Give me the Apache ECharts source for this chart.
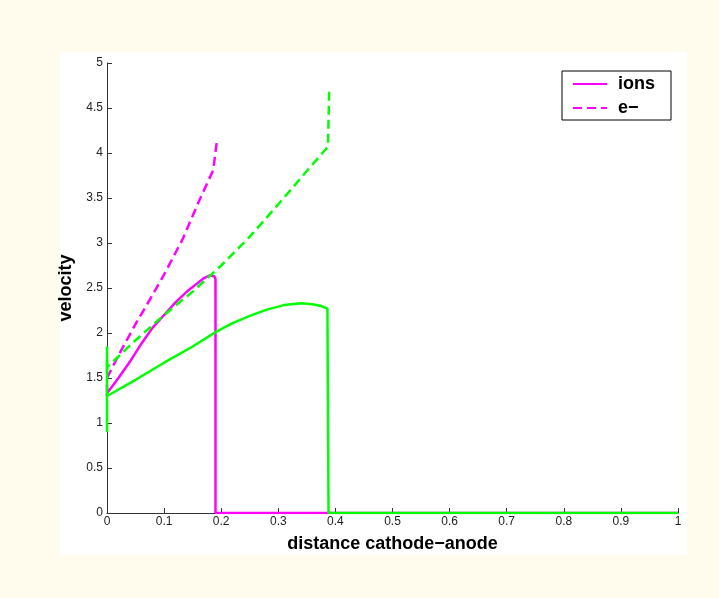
<!DOCTYPE html>
<html>
<head>
<meta charset="utf-8">
<script src="https://cdn.jsdelivr.net/npm/echarts@6/dist/echarts.min.js"></script>
<style>
  html, body { margin: 0; padding: 0; background: #fffcee; }
  #chart { width: 719px; height: 598px; }
</style>
</head>
<body>
<div id="chart"></div>
<script>
// 读图得到的数据 (x: 距离, y: 速度)
const ionsA = [[0, 1.3], [0, 1.42], [0, 1.33], [0.02, 1.5], [0.04, 1.68], [0.06, 1.88], [0.08, 2.06], [0.1, 2.2], [0.12, 2.34], [0.14, 2.46], [0.16, 2.56], [0.17, 2.61], [0.18, 2.64], [0.188, 2.63], [0.19, 2.6], [0.19, 0], [1, 0]];
const electronsA = [[0, 1.5], [0.02, 1.75], [0.05, 2.1], [0.075, 2.37], [0.1, 2.65], [0.133, 3.05], [0.16, 3.45], [0.186, 3.81], [0.192, 4.11]];
const ionsB = [[0, 0.9], [0, 1.75], [0, 1.3], [0.05, 1.48], [0.1, 1.67], [0.15, 1.85], [0.19, 2.01], [0.22, 2.11], [0.25, 2.19], [0.28, 2.26], [0.31, 2.31], [0.34, 2.33], [0.36, 2.32], [0.375, 2.3], [0.386, 2.27], [0.388, 2.29], [0.388, 0], [1, 0]];
const electronsB = [[0, 1.85], [0, 1.55], [0, 1.62], [0.05, 1.92], [0.1, 2.2], [0.15, 2.46], [0.2, 2.75], [0.25, 3.07], [0.3, 3.43], [0.35, 3.8], [0.387, 4.07], [0.389, 4.68]];

const magenta = '#ff00ff';
const green = '#00ff00';

const chart = echarts.init(document.getElementById('chart'));

const option = {
    backgroundColor: '#fffcee',
    animation: false,
    textStyle: { fontFamily: 'Liberation Sans, Arial, sans-serif' },
    graphic: [{
        type: 'rect',
        z: -10,
        shape: { x: 60, y: 52, width: 627, height: 503 },
        style: { fill: '#ffffff' }
    }],
    grid: { left: 107, right: 41, top: 63, bottom: 85 },
    legend: {
        data: ['ions', 'e−'],
        orient: 'vertical',
        left: 562,
        top: 71,
        itemWidth: 34,
        itemHeight: 12,
        itemGap: 6,
        padding: [4, 16, 3, 10],
        backgroundColor: '#fff',
        borderColor: '#000',
        borderWidth: 1,
        borderRadius: 0,
        itemStyle: { opacity: 0 },
        textStyle: { fontSize: 18, fontWeight: 'bold', color: '#000', padding: [0, 0, 0, 6] }
    },
    xAxis: {
        type: 'value',
        min: 0,
        max: 1,
        interval: 0.1,
        name: 'distance cathode−anode',
        nameLocation: 'middle',
        nameGap: 22,
        nameTextStyle: { fontSize: 18, fontWeight: 'bold', color: '#000' },
        axisLine: { lineStyle: { color: '#333' } },
        axisTick: { inside: true, length: 5, lineStyle: { color: '#333' } },
        axisLabel: { fontSize: 12, color: '#222', margin: 3 },
        splitLine: { show: false }
    },
    yAxis: {
        type: 'value',
        min: 0,
        max: 5,
        interval: 0.5,
        name: 'velocity',
        nameLocation: 'middle',
        nameGap: 32,
        nameTextStyle: { fontSize: 18, fontWeight: 'bold', color: '#000' },
        axisLine: { show: true, lineStyle: { color: '#333' } },
        axisTick: { show: true, inside: true, length: 5, lineStyle: { color: '#333' } },
        axisLabel: { fontSize: 12, color: '#222', margin: 4 },
        splitLine: { show: false }
    },
    series: [
        {
            name: 'ions',
            type: 'line',
            data: ionsA,
            symbol: 'none',
            color: magenta,
            lineStyle: { width: 2.5, color: magenta }
        },
        {
            name: 'e−',
            type: 'line',
            data: electronsA,
            symbol: 'none',
            color: magenta,
            lineStyle: { width: 2.5, color: magenta, type: [9, 5] }
        },
        {
            name: 'ions B',
            type: 'line',
            data: ionsB,
            symbol: 'none',
            color: green,
            lineStyle: { width: 2.5, color: green }
        },
        {
            name: 'e− B',
            type: 'line',
            data: electronsB,
            symbol: 'none',
            color: green,
            lineStyle: { width: 2.5, color: green, type: [9, 5] }
        }
    ]
};

chart.setOption(option);
</script>
</body>
</html>
